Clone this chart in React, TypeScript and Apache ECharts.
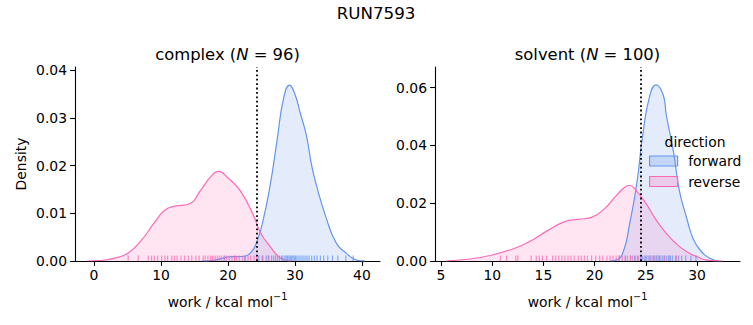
import React, { useEffect, useRef } from "react";
import * as echarts from "echarts";

// ---------- data ----------
const complexForwardX = [16, 18, 19.5, 20.5, 21.5, 22.5, 23.3, 24.3, 25.3, 26.3, 27.3, 28.3, 29.2, 30.0, 30.8, 31.7, 32.5, 33.2, 34.7, 36.2, 37.7, 39.2, 40.5];
const complexForwardY = [0, 0.0002, 0.0007, 0.0009, 0.0009, 0.001, 0.0016, 0.004, 0.0089, 0.0159, 0.025, 0.0341, 0.0369, 0.035, 0.031, 0.0264, 0.02, 0.0159, 0.0089, 0.0037, 0.0016, 0.0002, 0];
const complexReverseX = [-1, 1, 3.1, 5.1, 7.1, 9.1, 10.6, 12.1, 14.1, 16.1, 17.5, 18.6, 20, 21.8, 23.8, 24.8, 26.3, 27.8, 29.5];
const complexReverseY = [0, 0.0001, 0.0006, 0.0017, 0.0044, 0.0082, 0.0107, 0.0115, 0.0119, 0.0152, 0.0178, 0.0188, 0.0174, 0.0148, 0.0096, 0.0061, 0.003, 0.0007, 0];
const solventForwardX = [21.5, 22.1, 22.8, 23.4, 24.1, 24.7, 25.4, 26.0, 26.7, 27.0, 27.7, 28.3, 29.0, 29.6, 30.3, 31.3, 32.2];
const solventForwardY = [0, 0.0003, 0.0032, 0.0125, 0.0263, 0.0436, 0.0574, 0.0609, 0.0574, 0.0505, 0.0378, 0.024, 0.0148, 0.0079, 0.0038, 0.0009, 0];
const solventReverseX = [5.5, 7.6, 9.9, 12.2, 13.8, 15.4, 17.1, 18.4, 19.7, 21, 22, 23, 23.4, 24, 25, 26, 27, 28, 29, 30, 31, 32.5];
const solventReverseY = [0, 0.0006, 0.002, 0.0044, 0.007, 0.0105, 0.0136, 0.0144, 0.0151, 0.0182, 0.0222, 0.0257, 0.0262, 0.0246, 0.02, 0.0142, 0.0096, 0.0059, 0.0032, 0.0015, 0.0003, 0];

const complexForwardRug = [19.5, 21.0, 22.5, 24.6, 25.2, 25.7, 26.1, 26.5, 26.8, 27.1, 27.4, 27.7, 28.0, 28.2, 28.5, 28.7, 28.9, 29.1, 29.3, 29.5, 29.7, 29.9, 30.1, 30.3, 30.6, 30.9, 31.2, 31.5, 31.8, 32.1, 32.5, 32.9, 33.3, 33.8, 34.3, 34.9, 35.6, 36.4, 37.6, 38.7];
const complexReverseRug = [5.1, 6.6, 8.1, 8.6, 9.0, 9.5, 10.1, 10.6, 11.0, 11.6, 12.0, 12.4, 13.0, 13.5, 14.1, 14.6, 15.2, 15.7, 16.3, 16.6, 17.0, 17.4, 17.7, 18.1, 18.4, 18.7, 19.0, 19.4, 19.8, 20.2, 20.6, 21.0, 21.3, 21.7, 22.2, 22.6, 23.0, 23.4, 23.9, 24.3, 25.1, 26.0];
const solventForwardRug = [22.4, 23.0, 23.5, 23.9, 24.2, 24.5, 24.7, 24.9, 25.1, 25.3, 25.5, 25.7, 25.8, 26.0, 26.1, 26.3, 26.4, 26.6, 26.8, 27.0, 27.2, 27.4, 27.6, 27.9, 28.2, 28.5, 28.9, 29.4, 29.9];
const solventReverseRug = [10.8, 11.4, 12.3, 12.5, 13.8, 14.3, 14.6, 14.9, 15.3, 15.9, 16.2, 16.5, 16.8, 17.1, 17.4, 17.7, 18.0, 18.4, 18.7, 19.0, 19.3, 19.7, 20.1, 20.5, 20.8, 21.2, 21.5, 21.8, 22.1, 22.4, 22.7, 23.0, 23.2, 23.5, 23.7, 24.0, 24.3, 24.6, 25.0, 25.4, 25.8, 26.3, 26.8, 27.3, 28.0];

const complexCutoff = 24.3;
const solventCutoff = 24.55;

const complexXTicks = [0, 10, 20, 30, 40];
const complexYTicks = [0, 0.01, 0.02, 0.03, 0.04];
const solventXTicks = [5, 10, 15, 20, 25, 30];
const solventYTicks = [0, 0.02, 0.04, 0.06];

const BLUE = "#6495ED";
const PINK = "#FF69B4";
const BLUE_FILL = "rgba(100,149,237,0.25)";
const PINK_FILL = "rgba(255,105,180,0.25)";
const FONT = "DejaVu Sans";

const zip = (xs: number[], ys: number[]) => xs.map((x, i) => [x, ys[i]]);

function kde(name: string, xs: number[], ys: number[], color: string, fill: string, idx: number) {
  return {
    type: "line",
    name,
    xAxisIndex: idx,
    yAxisIndex: idx,
    data: zip(xs, ys),
    smooth: 0.5,
    showSymbol: false,
    symbol: "none",
    lineStyle: { color, width: 1.2 },
    itemStyle: { color },
    areaStyle: { color: fill, origin: "start" },
    silent: true,
    z: 2,
  };
}

function rug(name: string, vals: number[], color: string, idx: number) {
  return {
    type: "scatter",
    name,
    xAxisIndex: idx,
    yAxisIndex: idx,
    data: vals.map((v) => [v, 0]),
    symbol: "rect",
    symbolSize: [1.2, 5.5],
    symbolOffset: [0, -2.75],
    itemStyle: { color, opacity: 0.75 },
    silent: true,
    z: 3,
  };
}

function cutoff(value: number, idx: number) {
  return {
    type: "line",
    xAxisIndex: idx,
    yAxisIndex: idx,
    data: [],
    silent: true,
    z: 5,
    markLine: {
      symbol: "none",
      silent: true,
      label: { show: false },
      lineStyle: { color: "#000", width: 1.8, type: [1.8, 2.6] },
      data: [{ xAxis: value }],
      z: 5,
    },
  };
}

function xAxis(idx: number, min: number, max: number, ticks: number[]) {
  return {
    type: "value",
    gridIndex: idx,
    min,
    max,
    splitLine: { show: false },
    axisLine: { onZero: false, lineStyle: { color: "#000", width: 1.1 } },
    axisTick: { show: true, length: 4.9, lineStyle: { color: "#000", width: 1.1 }, customValues: ticks },
    axisLabel: { color: "#000", fontSize: 13.9, fontFamily: FONT, margin: 7, customValues: ticks, formatter: (v: number) => String(v) },
    name: "{a|work / kcal mol}{s|−1}",
    nameLocation: "middle",
    nameGap: 30,
    nameTextStyle: {
      color: "#000",
      fontFamily: FONT,
      rich: {
        a: { fontSize: 13.9, fontFamily: FONT, color: "#000", lineHeight: 18, verticalAlign: "bottom" },
        s: { fontSize: 9.7, fontFamily: FONT, color: "#000", lineHeight: 18, verticalAlign: "top" },
      },
    },
  };
}

function yAxis(idx: number, max: number, ticks: number[], withName: boolean) {
  return {
    type: "value",
    gridIndex: idx,
    min: 0,
    max,
    splitLine: { show: false },
    axisLine: { show: true, onZero: false, lineStyle: { color: "#000", width: 1.1 } },
    axisTick: { show: true, length: 4.9, lineStyle: { color: "#000", width: 1.1 }, customValues: ticks },
    axisLabel: { color: "#000", fontSize: 13.9, fontFamily: FONT, margin: 8, customValues: ticks, formatter: (v: number) => v.toFixed(2) },
    name: withName ? "Density" : "",
    nameLocation: "middle",
    nameGap: 47,
    nameTextStyle: { color: "#000", fontSize: 13.9, fontFamily: FONT },
  };
}

export default function App() {
  const ref = useRef<HTMLDivElement>(null);
  useEffect(() => {
    if (!ref.current) return;
    const chart = echarts.init(ref.current, undefined, { renderer: "svg" });
    chart.setOption({
      animation: false,
      backgroundColor: "#fff",
      textStyle: { fontFamily: FONT },
      grid: [
        { left: 75, top: 67, width: 305, height: 194, outerBoundsMode: "none", containLabel: false },
        { left: 435, top: 67, width: 305, height: 194, outerBoundsMode: "none", containLabel: false },
      ],
      xAxis: [xAxis(0, -2.84, 42.7, complexXTicks), xAxis(1, 4.41, 34.2, solventXTicks)],
      yAxis: [yAxis(0, 0.0407, complexYTicks, true), yAxis(1, 0.0671, solventYTicks, false)],
      legend: {
        orient: "vertical",
        left: 644,
        top: 149,
        itemWidth: 28,
        itemHeight: 10,
        itemGap: 6.5,
        icon: "rect",
        z: 10,
        formatter: (n: string) => "\u2009\u2009" + n,
        textStyle: { color: "#000", fontSize: 13.9, fontFamily: FONT },
        data: [
          { name: "forward", itemStyle: { color: BLUE_FILL, borderColor: BLUE, borderWidth: 1.2 } },
          { name: "reverse", itemStyle: { color: PINK_FILL, borderColor: PINK, borderWidth: 1.2 } },
        ],
        selectedMode: false,
      },
      graphic: [
        { type: "text", x: 376, y: 13, style: { text: "RUN7593", fontSize: 16.7, fontFamily: FONT, fill: "#000", textAlign: "center", textVerticalAlign: "middle" } },
        {
          type: "text", x: 227.5, y: 54,
          style: {
            text: "{a|complex (}{i|N}{a| = 96)}", textAlign: "center", textVerticalAlign: "middle",
            rich: { a: { fontSize: 16.4, fontFamily: FONT, fill: "#000" }, i: { fontSize: 16.4, fontFamily: FONT, fontStyle: "italic", fill: "#000" } },
          },
        },
        {
          type: "text", x: 587.5, y: 54,
          style: {
            text: "{a|solvent (}{i|N}{a| = 100)}", textAlign: "center", textVerticalAlign: "middle",
            rich: { a: { fontSize: 16.4, fontFamily: FONT, fill: "#000" }, i: { fontSize: 16.4, fontFamily: FONT, fontStyle: "italic", fill: "#000" } },
          },
        },
        { type: "text", x: 695, y: 142, z: 10, style: { text: "direction", fontSize: 13.9, fontFamily: FONT, fill: "#000", textAlign: "center", textVerticalAlign: "middle" } },
      ],
      series: [
        kde("forward", complexForwardX, complexForwardY, BLUE, BLUE_FILL, 0),
        kde("reverse", complexReverseX, complexReverseY, PINK, PINK_FILL, 0),
        kde("forward", solventForwardX, solventForwardY, BLUE, BLUE_FILL, 1),
        kde("reverse", solventReverseX, solventReverseY, PINK, PINK_FILL, 1),
        rug("forward rug", complexForwardRug, BLUE, 0),
        rug("reverse rug", complexReverseRug, PINK, 0),
        rug("forward rug", solventForwardRug, BLUE, 1),
        rug("reverse rug", solventReverseRug, PINK, 1),
        cutoff(complexCutoff, 0),
        cutoff(solventCutoff, 1),
      ],
    });
    return () => chart.dispose();
  }, []);
  return <div ref={ref} style={{ position: "absolute", left: 0, top: 0, width: 753, height: 325 }} />;
}
